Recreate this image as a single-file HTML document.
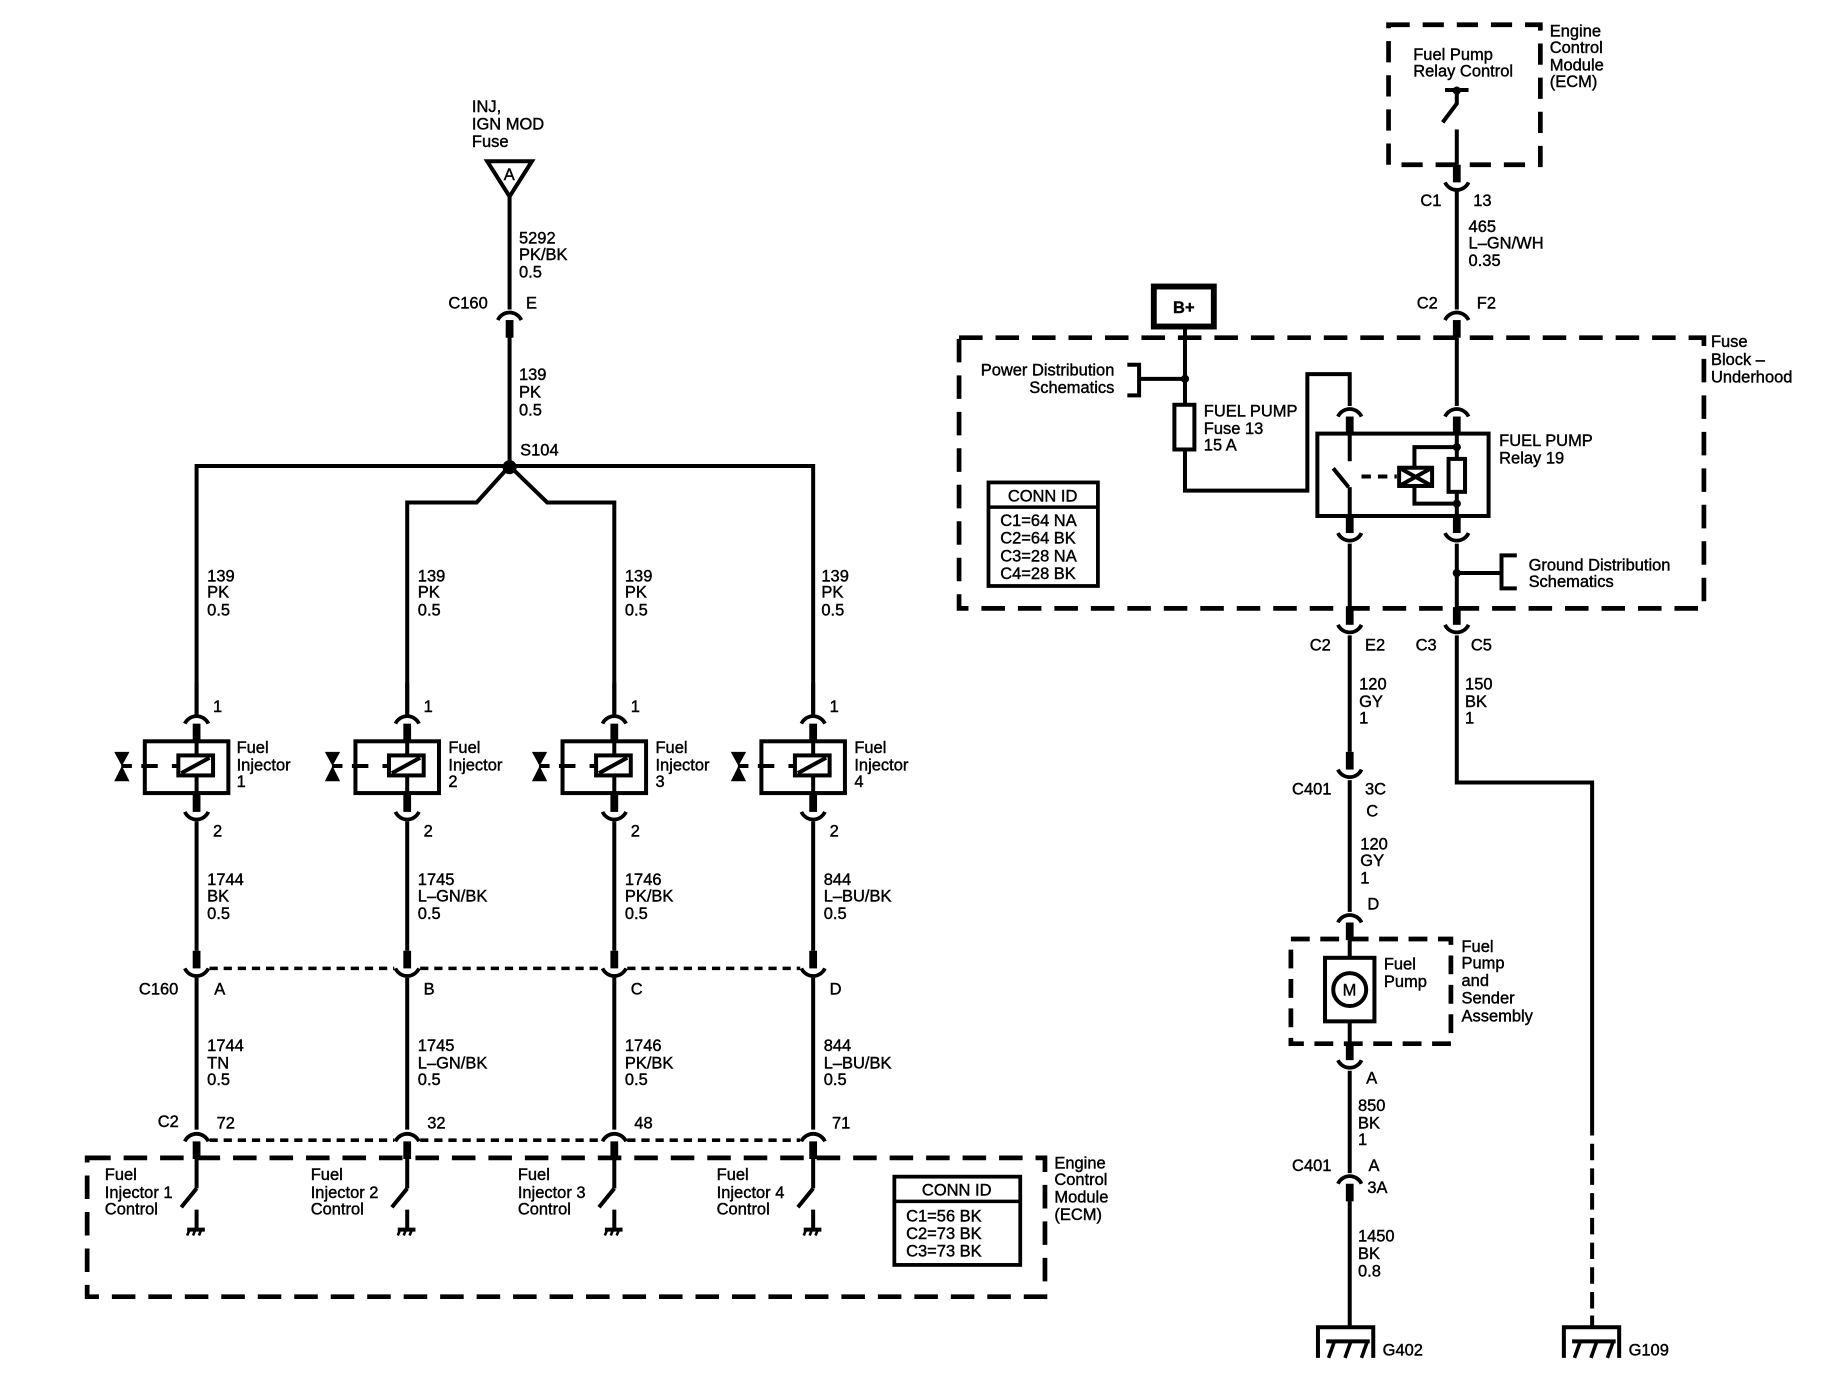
<!DOCTYPE html>
<html><head><meta charset="utf-8"><style>
html,body{margin:0;padding:0;background:#fff}
svg{display:block}
text{font-family:"Liberation Sans",Arial,sans-serif;font-size:14px;fill:#000;stroke:#000;stroke-width:0.35}
</style></head><body>
<svg width="1844" height="1392" viewBox="0 0 1567 1183" xmlns="http://www.w3.org/2000/svg">
<defs>
<g id="ct"><path d="M-10,0 A11,11 0 0 1 10,0" fill="none" stroke="#000" stroke-width="3.2"/><rect x="-3.3" y="0" width="6.6" height="15" fill="#000"/></g>
<g id="cb"><path d="M-10,0 A11,11 0 0 0 10,0" fill="none" stroke="#000" stroke-width="3.2"/><rect x="-3.3" y="-15" width="6.6" height="15" fill="#000"/></g>
<g id="col">
<g fill="none" stroke="#000" stroke-width="3.4">
<line x1="0" y1="580" x2="0" y2="606"/>
<rect x="-44" y="630" width="71" height="44"/>
<line x1="0" y1="630" x2="0" y2="674"/>
<rect x="-15.5" y="642" width="29.5" height="17" fill="#fff"/>
<line x1="-13" y1="657" x2="11" y2="644"/>
<line x1="-47" y1="651" x2="-33" y2="651"/><line x1="-21" y1="651" x2="-15.5" y2="651"/>
<line x1="-64" y1="651" x2="-55" y2="651"/>
<line x1="0" y1="698" x2="0" y2="808"/>
<line x1="0" y1="831" x2="0" y2="960"/>
<line x1="0" y1="984" x2="0" y2="1010"/>
<line x1="0" y1="1010" x2="-13" y2="1026"/>
<line x1="0" y1="1028" x2="0" y2="1044"/>
<line x1="-8" y1="1045" x2="7" y2="1045"/>
</g>
<polygon points="-70,639 -57,639 -63.5,651" fill="#000"/><polygon points="-70,664 -57,664 -63.5,651" fill="#000"/>
<path d="M-6,1045 l-2,5 M-1,1045 l-2,5 M4,1045 l-2,5" stroke="#000" stroke-width="2.2"/>
<use href="#ct" x="0" y="615"/><use href="#cb" x="0" y="690"/>
<use href="#cb" x="0" y="823"/><use href="#ct" x="0" y="970"/>
</g>
</defs>
<g fill="none" stroke="#000" stroke-width="3.4">
<polygon points="414,137 452,137 433,167"/>
<line x1="433" y1="167" x2="433" y2="263"/>
<line x1="433" y1="286" x2="433" y2="396"/>
<polyline points="167,610 167,396 691,396 691,610"/>
<polyline points="346,610 346,427 405,427 433,396 465,427 522,427 522,610"/>
</g>
<circle cx="433" cy="397" r="6" fill="#000"/>
<use href="#ct" x="433" y="272"/>
<text x="401" y="95">INJ,</text><text x="401" y="110">IGN MOD</text><text x="401" y="125">Fuse</text>
<text x="428" y="153" font-size="12">A</text>
<text x="441" y="207">5292</text><text x="441" y="221">PK/BK</text><text x="441" y="236">0.5</text>
<text x="381" y="262">C160</text><text x="447" y="262">E</text>
<text x="441" y="323">139</text><text x="441" y="338">PK</text><text x="441" y="353">0.5</text>
<text x="442" y="387">S104</text>
<use href="#col" x="167" y="0"/>
<use href="#col" x="346" y="0"/>
<use href="#col" x="522" y="0"/>
<use href="#col" x="691" y="0"/>
<g stroke="#000" stroke-width="3" stroke-dasharray="7 5" fill="none">
<line x1="178" y1="823" x2="335" y2="823"/><line x1="357" y1="823" x2="511" y2="823"/><line x1="533" y1="823" x2="680" y2="823"/>
<line x1="178" y1="969" x2="335" y2="969"/><line x1="357" y1="969" x2="511" y2="969"/><line x1="533" y1="969" x2="680" y2="969"/>
</g>
<g>
<text x="176" y="494">139</text><text x="176" y="508">PK</text><text x="176" y="523">0.5</text>
<text x="355" y="494">139</text><text x="355" y="508">PK</text><text x="355" y="523">0.5</text>
<text x="531" y="494">139</text><text x="531" y="508">PK</text><text x="531" y="523">0.5</text>
<text x="698" y="494">139</text><text x="698" y="508">PK</text><text x="698" y="523">0.5</text>
<text x="181" y="605">1</text><text x="360" y="605">1</text><text x="536" y="605">1</text><text x="705" y="605">1</text>
<text x="181" y="711">2</text><text x="360" y="711">2</text><text x="536" y="711">2</text><text x="705" y="711">2</text>
<text x="201" y="640">Fuel</text><text x="201" y="655">Injector</text><text x="201" y="669">1</text>
<text x="381" y="640">Fuel</text><text x="381" y="655">Injector</text><text x="381" y="669">2</text>
<text x="557" y="640">Fuel</text><text x="557" y="655">Injector</text><text x="557" y="669">3</text>
<text x="726" y="640">Fuel</text><text x="726" y="655">Injector</text><text x="726" y="669">4</text>
<text x="176" y="752">1744</text><text x="176" y="766">BK</text><text x="176" y="781">0.5</text>
<text x="355" y="752">1745</text><text x="355" y="766">L–GN/BK</text><text x="355" y="781">0.5</text>
<text x="531" y="752">1746</text><text x="531" y="766">PK/BK</text><text x="531" y="781">0.5</text>
<text x="700" y="752">844</text><text x="700" y="766">L–BU/BK</text><text x="700" y="781">0.5</text>
<text x="118" y="845">C160</text>
<text x="182" y="845">A</text><text x="360" y="845">B</text><text x="536" y="845">C</text><text x="705" y="845">D</text>
<text x="176" y="893">1744</text><text x="176" y="908">TN</text><text x="176" y="922">0.5</text>
<text x="355" y="893">1745</text><text x="355" y="908">L–GN/BK</text><text x="355" y="922">0.5</text>
<text x="531" y="893">1746</text><text x="531" y="908">PK/BK</text><text x="531" y="922">0.5</text>
<text x="700" y="893">844</text><text x="700" y="908">L–BU/BK</text><text x="700" y="922">0.5</text>
<text x="134" y="958">C2</text>
<text x="184" y="959">72</text><text x="363" y="959">32</text><text x="539" y="959">48</text><text x="707" y="959">71</text>
<text x="89" y="1003">Fuel</text><text x="89" y="1018">Injector 1</text><text x="89" y="1032">Control</text>
<text x="264" y="1003">Fuel</text><text x="264" y="1018">Injector 2</text><text x="264" y="1032">Control</text>
<text x="440" y="1003">Fuel</text><text x="440" y="1018">Injector 3</text><text x="440" y="1032">Control</text>
<text x="609" y="1003">Fuel</text><text x="609" y="1018">Injector 4</text><text x="609" y="1032">Control</text>
<text x="896" y="993">Engine</text><text x="896" y="1007">Control</text><text x="896" y="1022">Module</text><text x="896" y="1037">(ECM)</text>
</g>
<rect x="74" y="984" width="814" height="118" fill="none" stroke="#000" stroke-width="4" stroke-dasharray="20 11"/>
<rect x="760" y="1000" width="107" height="75" fill="none" stroke="#000" stroke-width="3.2"/>
<line x1="760" y1="1021" x2="867" y2="1021" stroke="#000" stroke-width="3"/>
<text x="813" y="1016" text-anchor="middle">CONN ID</text>
<text x="770" y="1038">C1=56 BK</text><text x="770" y="1053">C2=73 BK</text><text x="770" y="1068">C3=73 BK</text>

<rect x="1180" y="21" width="129" height="119" fill="none" stroke="#000" stroke-width="4" stroke-dasharray="18 11"/>
<text x="1201" y="51">Fuel Pump</text><text x="1201" y="65">Relay Control</text>
<text x="1317" y="31">Engine</text><text x="1317" y="45">Control</text><text x="1317" y="60">Module</text><text x="1317" y="74">(ECM)</text>
<g fill="none" stroke="#000" stroke-width="3.4">
<line x1="1228" y1="76.5" x2="1248" y2="76.5"/>
<polyline points="1238,77 1238,88 1226,104"/>
<line x1="1238" y1="110" x2="1238" y2="140"/>
<line x1="1238" y1="162" x2="1238" y2="263"/>
<line x1="1238" y1="287" x2="1238" y2="345"/>
<line x1="1238" y1="368" x2="1238" y2="390"/>
<rect x="1231" y="390" width="14" height="28"/>
<line x1="1238" y1="418" x2="1238" y2="439"/>
<polyline points="1238,380 1202,380 1202,428 1238,428"/>
<line x1="1238" y1="462" x2="1238" y2="517"/>
<line x1="1238" y1="487" x2="1275" y2="487"/>
<polyline points="1289,472 1276,472 1276,500 1289,500"/>
<line x1="1007" y1="278" x2="1007" y2="344"/>
<rect x="998" y="344" width="17" height="38"/>
<polyline points="1007,382 1007,417 1111,417 1111,318 1147,318 1147,345"/>
<line x1="1007" y1="322" x2="968" y2="322"/>
<polyline points="958,310 968,310 968,336 958,336"/>
<line x1="1147" y1="368" x2="1147" y2="392"/>
<line x1="1146" y1="414" x2="1133" y2="398"/>
<line x1="1147" y1="414" x2="1147" y2="439"/>
<rect x="1119.5" y="368.5" width="145.5" height="70"/>
<line x1="1147" y1="462" x2="1147" y2="517"/>
<rect x="1189" y="397.5" width="28" height="15.5" fill="#fff"/>
<path d="M1189,397.5 L1217,413 M1217,397.5 L1189,413"/>
<line x1="1157" y1="405" x2="1187" y2="405" stroke-dasharray="8 6"/>
<line x1="1147" y1="540" x2="1147" y2="639"/>
<line x1="1147" y1="663" x2="1147" y2="775"/>
<line x1="1147" y1="799" x2="1147" y2="887"/>
<line x1="1147" y1="910" x2="1147" y2="997"/>
<line x1="1147" y1="1021" x2="1147" y2="1128"/>
<polyline points="1238,540 1238,665 1353,665 1353,951"/>
<line x1="1353" y1="951" x2="1353" y2="1118" stroke-dasharray="14 7"/>
<line x1="1353" y1="1118" x2="1353" y2="1128"/>
<rect x="1126" y="814" width="42" height="54" fill="#fff"/>
<circle cx="1147" cy="841" r="14" fill="#fff"/>
<polyline points="1120,1154 1120,1128 1167,1128 1167,1154"/>
<line x1="1127" y1="1140" x2="1164" y2="1140"/>
<polyline points="1329,1154 1329,1128 1376,1128 1376,1154"/>
<line x1="1336" y1="1140" x2="1373" y2="1140"/>
</g>
<path d="M1134,1140 l-5,14 M1148,1140 l-5,14 M1162,1140 l-5,14 M1343,1140 l-5,14 M1357,1140 l-5,14 M1371,1140 l-5,14" stroke="#000" stroke-width="3"/>
<circle cx="1007" cy="322" r="3.5"/><circle cx="1238" cy="380" r="3.5"/><circle cx="1238" cy="428" r="3.5"/><circle cx="1238" cy="487" r="3.5"/><circle cx="1238" cy="77" r="3.5"/>
<use href="#cb" x="1238" y="155"/>
<use href="#ct" x="1238" y="272"/>
<use href="#ct" x="1147" y="354"/><use href="#ct" x="1238" y="354"/>
<use href="#cb" x="1147" y="453"/><use href="#cb" x="1238" y="453"/>
<use href="#cb" x="1147" y="531"/><use href="#cb" x="1238" y="531"/>
<use href="#cb" x="1147" y="654"/>
<use href="#ct" x="1147" y="784"/>
<use href="#cb" x="1147" y="901"/>
<use href="#ct" x="1147" y="1006"/>
<rect x="980.5" y="243.5" width="51" height="34" fill="none" stroke="#000" stroke-width="5"/>
<text x="1006" y="266" text-anchor="middle" font-weight="bold">B+</text>
<rect x="815" y="287" width="633" height="230" fill="none" stroke="#000" stroke-width="4" stroke-dasharray="20 11"/>
<rect x="1097" y="798" width="136" height="89" fill="none" stroke="#000" stroke-width="4" stroke-dasharray="16 9"/>
<rect x="840" y="410" width="93" height="88" fill="none" stroke="#000" stroke-width="3.2"/>
<line x1="840" y1="431" x2="933" y2="431" stroke="#000" stroke-width="3"/>
<text x="886" y="426" text-anchor="middle">CONN ID</text>
<text x="850" y="447">C1=64 NA</text><text x="850" y="462">C2=64 BK</text><text x="850" y="477">C3=28 NA</text><text x="850" y="492">C4=28 BK</text>
<text x="1207" y="175">C1</text><text x="1252" y="175">13</text>
<text x="1248" y="197">465</text><text x="1248" y="211">L–GN/WH</text><text x="1248" y="226">0.35</text>
<text x="1204" y="262">C2</text><text x="1255" y="262">F2</text>
<text x="1454" y="295">Fuse</text><text x="1454" y="310">Block –</text><text x="1454" y="325">Underhood</text>
<text x="947" y="319" text-anchor="end">Power Distribution</text><text x="947" y="334" text-anchor="end">Schematics</text>
<text x="1023" y="354">FUEL PUMP</text><text x="1023" y="369">Fuse 13</text><text x="1023" y="383">15 A</text>
<text x="1274" y="379">FUEL PUMP</text><text x="1274" y="394">Relay 19</text>
<text x="1299" y="485">Ground Distribution</text><text x="1299" y="499">Schematics</text>
<text x="1113" y="553">C2</text><text x="1160" y="553">E2</text><text x="1203" y="553">C3</text><text x="1250" y="553">C5</text>
<text x="1155" y="586">120</text><text x="1155" y="601">GY</text><text x="1155" y="615">1</text>
<text x="1245" y="586">150</text><text x="1245" y="601">BK</text><text x="1245" y="615">1</text>
<text x="1098" y="675">C401</text><text x="1160" y="675">3C</text><text x="1161" y="694">C</text>
<text x="1156" y="722">120</text><text x="1156" y="736">GY</text><text x="1156" y="751">1</text>
<text x="1162" y="773">D</text>
<text x="1141" y="846" font-size="13">M</text>
<text x="1176" y="824">Fuel</text><text x="1176" y="839">Pump</text>
<text x="1242" y="809">Fuel</text><text x="1242" y="823">Pump</text><text x="1242" y="838">and</text><text x="1242" y="853">Sender</text><text x="1242" y="868">Assembly</text>
<text x="1161" y="921">A</text>
<text x="1154" y="944">850</text><text x="1154" y="959">BK</text><text x="1154" y="973">1</text>
<text x="1098" y="995">C401</text><text x="1163" y="995">A</text><text x="1162" y="1014">3A</text>
<text x="1154" y="1055">1450</text><text x="1154" y="1070">BK</text><text x="1154" y="1085">0.8</text>
<text x="1175" y="1152">G402</text><text x="1384" y="1152">G109</text>
</svg>
</body></html>
